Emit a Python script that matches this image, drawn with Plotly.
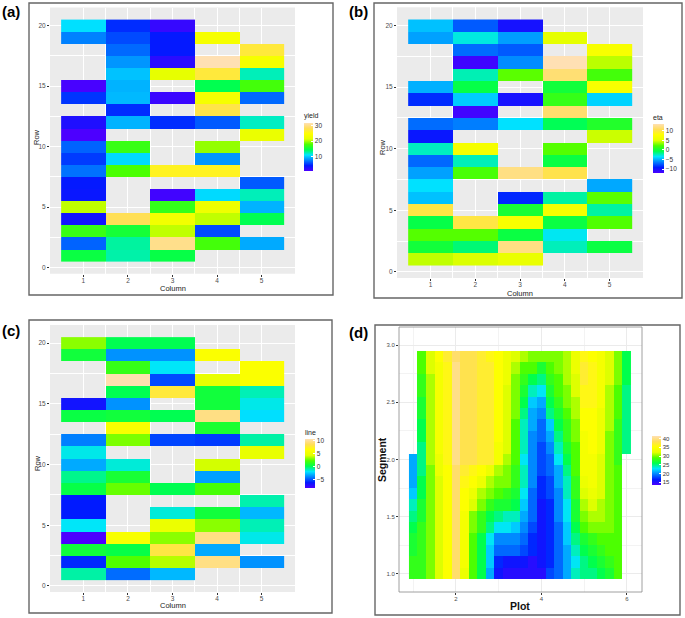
import plotly.graph_objects as go

N = None

# ---- panels (a)-(c): Row x Column field trial, rows 1..20 listed bottom to top ----
columns = [1, 2, 3, 4, 5]
rows = list(range(1, 21))

yield_col1 = [15, 6.8, 17, 3.6, 20.5, 4.0, 4.2, 7.3, 5.5, 6.8, 1.0, 3.0, N, 5.3, 1.2, N, N, N, 7.8, 11]
yield_col2 = [12.8, 13, 15.5, 28, N, N, N, 17.8, 10.8, 17, N, 9.5, 5, 9.7, 9.5, 10, 8.5, 7, 6, 5]
yield_col3 = [14.8, 30, 20.5, 23, 16.8, 1.5, N, 26, N, N, N, 5, N, 1.8, N, 21.5, 2.5, 4.2, 4.2, 2]
yield_col4 = [N, 17.5, 6, 20.5, 22.5, 10.8, N, 26, 8.5, 19.5, N, 6.5, 27.5, 23.5, 14.5, 27, 31.5, N, 23.5, N]
yield_col5 = [N, 9.2, N, 14.5, 9.5, 12.5, 6.5, N, N, N, 22, 12.3, N, 7, 17.5, 12.5, 23.5, 27, N, N]

eta_col1 = [4.3, 0, 2.3, -0.5, 10, -4.5, -3.6, -5.4, -7, -2.5, -9.5, -6.9, N, -8.7, -5, N, N, N, -5.4, -4.5]
eta_col2 = [4.8, -1.3, 2.3, 10, N, N, N, 2, -2.4, 6.8, N, -6.4, -11.6, -4.2, -0.5, -2.3, -11.5, -6.9, -3, -7.4]
eta_col3 = [5.5, 12, -0.3, 7, 0.2, -8.8, N, 12, N, N, N, -3.6, N, -10, N, 2.4, -6, -7.4, -5.5, -10]
eta_col4 = [N, -2.4, -3.3, -0.3, 6.8, -2, N, 10.3, -0.3, 2.3, N, -0.8, 11.3, 1.3, 0, 11.5, 13.5, N, 5, N]
eta_col5 = [N, -0.3, N, 2.2, -2, 2.4, -5.2, N, N, N, 4.5, 0.6, N, -4, 7, 1.8, 4.2, 7, N, N]

line_col1 = [-1, -6, 0.5, -8.4, -2, -6.3, -6.3, 0.2, -0.7, -3.3, -1.8, -4.2, N, 0.3, -6.8, N, N, N, 0.5, 3]
line_col2 = [-4.6, 2.2, 0.2, 5.8, N, N, N, 2.5, 0.7, -1.6, N, 2.8, 5.8, 0.5, -3.8, 0, 10.5, 1.5, -3.8, 0]
line_col3 = [-3, 3.6, 8, 3, 4.8, -1.6, N, 0, N, N, N, -5.4, N, 0, N, 7.8, -5.3, -2, -3.8, 0]
line_col4 = [N, 9.5, -3.3, 9.5, 3, 0.5, N, 2, -3.5, 4, N, -5.6, 0.8, 9.5, 0.5, 0.5, 4.5, N, 6, N]
line_col5 = [N, -3.8, N, -1.8, -1.2, -3, -1.1, N, N, N, 4.5, -1, N, -2.2, -1.8, -1.2, 6, 6, N, N]

# ---- panel (d): Plot x Segment surface ----
plot_x = [1.0, 1.2, 1.4, 1.6, 1.8, 2.0, 2.2, 2.4, 2.6, 2.8, 3.0, 3.2, 3.4,
          3.6, 3.8, 4.0, 4.2, 4.4, 4.6, 4.8, 5.0, 5.2, 5.4, 5.6, 5.8, 6.0]
segment_y = [1.0, 1.1, 1.2, 1.3, 1.4, 1.5, 1.6, 1.7, 1.8, 1.9,
             2.0, 2.1, 2.2, 2.3, 2.4, 2.5, 2.6, 2.7, 2.8, 2.9]

seg_10 = [28, 28, 30, 32, 35, 39, 33, 29, 26, 21, 16, 15, 15, 15, 15, 15, 18, 19, 21, 24, 25, 25, 26, 27, 29, N]
seg_11 = [28, 28, 30, 32, 35, 39, 34, 29, 26, 22, 17, 16, 16, 16, 15, 16, 17, 19, 21, 23, 25, 26, 27, 28, 29, N]
seg_12 = [27, 28, 30, 32, 35, 39, 34, 29, 26, 22, 19, 19, 19, 18, 17, 16, 17, 19, 21, 24, 26, 27, 28, 29, 29, N]
seg_13 = [27, 28, 30, 32, 35, 39, 34, 29, 26, 23, 20, 20, 20, 19, 17, 16, 17, 19, 22, 25, 27, 28, 29, 29, 29, N]
seg_14 = [26, 28, 30, 32, 35, 39, 34, 30, 28, 25, 23, 23, 22, 20, 18, 16, 17, 19, 22, 26, 29, 30, 30, 30, 29, N]
seg_15 = [25, 27, 30, 32, 35, 39, 34, 30, 28, 26, 25, 24, 24, 21, 19, 16, 17, 20, 23, 27, 30, 31, 31, 30, 29, N]
seg_16 = [24, 27, 30, 32, 35, 39, 35, 32, 30, 28, 27, 27, 26, 22, 19, 16, 17, 20, 23, 27, 31, 32, 31, 30, 29, N]
seg_17 = [22, 26, 30, 32, 35, 39, 35, 33, 31, 30, 29, 28, 27, 23, 19, 17, 18, 20, 24, 28, 32, 33, 32, 30, 29, N]
seg_18 = [21, 26, 30, 32, 35, 39, 36, 35, 33, 31, 30, 30, 28, 24, 20, 17, 18, 21, 24, 28, 33, 34, 32, 30, 29, N]
seg_19 = [21, 25, 30, 33, 35, 39, 37, 36, 35, 33, 31, 30, 28, 24, 20, 18, 19, 21, 25, 29, 34, 34, 32, 30, 29, N]
seg_20 = [21, 25, 31, 33, 36, 40, 38, 38, 37, 37, 34, 31, 29, 23, 20, 18, 19, 23, 26, 29, 34, 34, 32, 30, 28, N]
seg_21 = [N, 25, 31, 34, 36, 40, 38, 38, 37, 37, 34, 32, 29, 24, 20, 18, 20, 24, 27, 29, 34, 35, 33, 30, 28, 25]
seg_22 = [N, 26, 31, 34, 36, 40, 38, 38, 37, 37, 35, 32, 29, 24, 20, 19, 21, 25, 28, 30, 34, 35, 33, 30, 28, 25]
seg_23 = [N, 26, 31, 34, 36, 40, 38, 38, 37, 37, 35, 32, 29, 24, 21, 19, 22, 26, 28, 30, 35, 35, 33, 31, 28, 25]
seg_24 = [N, 27, 31, 34, 36, 40, 38, 38, 37, 37, 35, 32, 30, 25, 21, 20, 25, 27, 29, 31, 35, 35, 33, 31, 29, 25]
seg_25 = [N, 27, 31, 34, 36, 40, 38, 38, 37, 37, 35, 32, 30, 26, 22, 21, 26, 28, 30, 31, 36, 36, 34, 31, 29, 25]
seg_26 = [N, 28, 31, 34, 36, 40, 38, 38, 37, 37, 35, 32, 30, 27, 24, 23, 27, 29, 30, 32, 36, 36, 34, 31, 29, 25]
seg_27 = [N, 28, 31, 34, 36, 40, 38, 38, 37, 37, 35, 33, 30, 28, 26, 25, 28, 29, 31, 32, 37, 36, 34, 32, 30, 26]
seg_28 = [N, 29, 32, 34, 36, 40, 38, 38, 37, 37, 35, 33, 31, 29, 29, 27, 29, 30, 31, 33, 37, 36, 34, 32, 30, 26]
seg_29 = [N, 29, 32, 35, 37, 39, 38, 38, 37, 36, 35, 33, 32, 31, 30, 30, 30, 30, 31, 33, 36, 35, 34, 32, 30, 26]

# R topo.colors(10)
TOPO = [[0, "#4C00FF"], [1 / 9, "#001AFF"], [2 / 9, "#0080FF"], [3 / 9, "#00E5FF"],
        [4 / 9, "#00FF4D"], [5 / 9, "#4DFF00"], [6 / 9, "#E6FF00"], [7 / 9, "#FFFF00"],
        [8 / 9, "#FFDE59"], [1, "#FFE0B3"]]

W, H = 685, 618


def fx(p):
    return p / W


def fy(p):
    return 1 - p / H


def by_rows(*cols):
    return [list(r) for r in zip(*cols)]


yield_z = by_rows(yield_col1, yield_col2, yield_col3, yield_col4, yield_col5)
eta_z = by_rows(eta_col1, eta_col2, eta_col3, eta_col4, eta_col5)
line_z = by_rows(line_col1, line_col2, line_col3, line_col4, line_col5)
seg_z = [seg_10, seg_11, seg_12, seg_13, seg_14, seg_15, seg_16, seg_17, seg_18, seg_19,
         seg_20, seg_21, seg_22, seg_23, seg_24, seg_25, seg_26, seg_27, seg_28, seg_29]

# pixel boxes: left, right, top, bottom
boxes = {
    "a": (50, 295, 7.5, 273.7),
    "b": (397, 643, 7.2, 278),
    "c": (50, 295, 325, 592),
    "d": (399, 642, 327, 592),
}
TICKFONT = dict(family="Liberation Sans, Arial", size=6.5, color="#4D4D4D")


def cbar(x, ytop, title, tickvals, thick=9):
    return dict(x=fx(x), xanchor="left", y=fy(ytop), yanchor="top", len=61, lenmode="pixels",
                thickness=thick, xpad=0, ypad=0, outlinewidth=0,
                title=dict(text=title, side="top", font=dict(family="Liberation Sans, Arial", size=7, color="#222")),
                tickvals=tickvals, ticks="inside", ticklen=2, tickcolor="white",
                tickfont=dict(family="Liberation Sans, Arial", size=6.5, color="#333"))


fig = go.Figure()
fig.add_trace(go.Heatmap(x=columns, y=rows, z=yield_z, colorscale=TOPO, zmin=1, zmax=31.5,
                         xaxis="x", yaxis="y", hoverongaps=False,
                         colorbar=cbar(304, 110, "yield", [10, 20, 30])))
fig.add_trace(go.Heatmap(x=columns, y=rows, z=eta_z, colorscale=TOPO, zmin=-12, zmax=13.5,
                         xaxis="x2", yaxis="y2", hoverongaps=False,
                         colorbar=cbar(653, 112, "eta", [-10, -5, 0, 5, 10], 11)))
fig.add_trace(go.Heatmap(x=columns, y=rows, z=line_z, colorscale=TOPO, zmin=-8.4, zmax=10.6,
                         xaxis="x3", yaxis="y3", hoverongaps=False,
                         colorbar=cbar(305, 427, "line", [-5, 0, 5, 10], 10)))
fig.add_trace(go.Heatmap(x=plot_x, y=segment_y, z=seg_z, colorscale=TOPO, zmin=13.5, zmax=41.5,
                         xaxis="x4", yaxis="y4", hoverongaps=False,
                         colorbar=dict(x=fx(652), xanchor="left", y=fy(436), yanchor="top", len=49,
                                       lenmode="pixels", thickness=9, xpad=0, ypad=0, outlinewidth=0,
                                       tickvals=[15, 20, 25, 30, 35, 40], ticks="inside", ticklen=2,
                                       tickcolor="white",
                                       tickfont=dict(family="Liberation Sans, Arial", size=6, color="#333"))))


def gg_x(key, anchor):
    l, r, t, b = boxes[key]
    return dict(domain=[fx(l), fx(r)], anchor=anchor, range=[0.25, 5.75], tickvals=columns,
                showgrid=True, gridcolor="white", gridwidth=1, zeroline=False, showline=False,
                ticks="outside", ticklen=2, tickcolor="#333", tickfont=TICKFONT, ticklabelstandoff=-2,
                minor=dict(tickvals=[1.5, 2.5, 3.5, 4.5], showgrid=True, gridcolor="white",
                           gridwidth=0.5, ticks=""))


def gg_y(key, anchor):
    l, r, t, b = boxes[key]
    return dict(domain=[fy(b), fy(t)], anchor=anchor, range=[-0.5, 21.5], tickvals=[0, 5, 10, 15, 20],
                showgrid=True, gridcolor="white", gridwidth=1, zeroline=False, showline=False,
                ticks="outside", ticklen=2, tickcolor="#333", tickfont=TICKFONT,
                minor=dict(tickvals=[2.5, 7.5, 12.5, 17.5], showgrid=True, gridcolor="white",
                           gridwidth=0.5, ticks=""))


l, r, t, b = boxes["d"]
fig.update_layout(
    width=W, height=H, margin=dict(l=0, r=0, t=0, b=0),
    paper_bgcolor="white", plot_bgcolor="white",
    font=dict(family="Liberation Sans, Arial"),
    xaxis=gg_x("a", "y"), yaxis=gg_y("a", "x"),
    xaxis2=gg_x("b", "y2"), yaxis2=gg_y("b", "x2"),
    xaxis3=gg_x("c", "y3"), yaxis3=gg_y("c", "x3"),
    xaxis4=dict(domain=[fx(l), fx(r)], anchor="y4", range=[0.667, 6.351], tickvals=[2, 4, 6],
                showgrid=True, gridcolor="#EBEBEB", gridwidth=0.8, zeroline=False, showline=False,
                ticks="outside", ticklen=2, tickcolor="#333", ticklabelstandoff=-1,
                tickfont=dict(family="Liberation Sans, Arial", size=6, color="#4D4D4D"),
                minor=dict(tickvals=[1, 3, 5], showgrid=True, gridcolor="#F3F3F3", gridwidth=0.5, ticks="")),
    yaxis4=dict(domain=[fy(b), fy(t)], anchor="x4", range=[0.84, 3.16],
                tickvals=[1.0, 1.5, 2.0, 2.5, 3.0], ticktext=["1.0", "1.5", "2.0", "2.5", "3.0"],
                showgrid=True, gridcolor="#EBEBEB", gridwidth=0.8, zeroline=False, showline=False,
                ticks="outside", ticklen=2, tickcolor="#333",
                tickfont=dict(family="Liberation Sans, Arial", size=6, color="#4D4D4D"),
                minor=dict(tickvals=[1.25, 1.75, 2.25, 2.75], showgrid=True, gridcolor="#F3F3F3",
                           gridwidth=0.5, ticks="")),
)

shapes = []
# grey ggplot panels
for xa, ya in [("x", "y"), ("x2", "y2"), ("x3", "y3")]:
    shapes.append(dict(type="rect", xref=xa + " domain", yref=ya + " domain", x0=0, x1=1, y0=0, y1=1,
                       fillcolor="#EBEBEB", line=dict(width=0), layer="below"))
# panel (d) border
shapes.append(dict(type="rect", xref="x4 domain", yref="y4 domain", x0=0, x1=1, y0=0, y1=1,
                   fillcolor="rgba(0,0,0,0)", line=dict(width=0.8, color="#888"), layer="above"))
# outer frames round each panel
for x0, x1, y0, y1 in [(29, 333, 3, 295), (374, 682, 3, 298), (29, 332, 320, 613), (375, 680, 325, 615)]:
    shapes.append(dict(type="rect", xref="paper", yref="paper", x0=fx(x0), x1=fx(x1), y0=fy(y1), y1=fy(y0),
                       fillcolor="rgba(0,0,0,0)", line=dict(width=1.4, color="#666")))
fig.update_layout(shapes=shapes)

notes = []
for txt, x, y in [("(a)", 0, 1), ("(b)", 347, 1), ("(c)", 0, 320), ("(d)", 347, 322)]:
    notes.append(dict(text="<b>%s</b>" % txt, x=fx(x), y=fy(y), xref="paper", yref="paper",
                      xanchor="left", yanchor="top", showarrow=False,
                      font=dict(family="Liberation Sans, Arial", size=15, color="black")))
for txt, x, y, ang in [("Column", 172.5, 288.5, 0), ("Row", 37, 137, -90),
                       ("Column", 520, 293, 0), ("Row", 382, 147, -90),
                       ("Column", 172.5, 605, 0), ("Row", 37, 463, -90)]:
    notes.append(dict(text=txt, x=fx(x), y=fy(y), xref="paper", yref="paper", textangle=ang,
                      xanchor="center", yanchor="middle", showarrow=False,
                      font=dict(family="Liberation Sans, Arial", size=7.5, color="#222")))
for txt, x, y, ang in [("Plot", 520, 606, 0), ("Segment", 382, 460, -90)]:
    notes.append(dict(text="<b>%s</b>" % txt, x=fx(x), y=fy(y), xref="paper", yref="paper", textangle=ang,
                      xanchor="center", yanchor="middle", showarrow=False,
                      font=dict(family="Liberation Sans, Arial", size=10.5, color="#111")))
fig.update_layout(annotations=notes)

# the page's default body margin would push the figure 8px in from the corner
fig.write_html("out.html", config={"displayModeBar": False},
               post_script="document.body.style.margin='0';document.body.style.overflow='hidden';")
